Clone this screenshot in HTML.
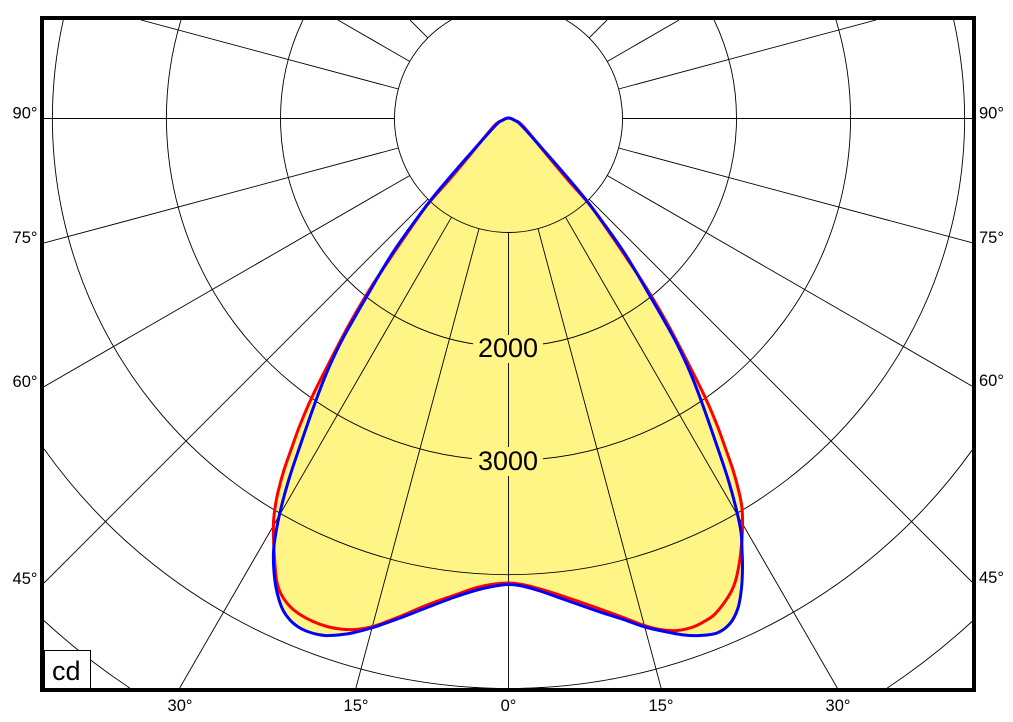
<!DOCTYPE html>
<html>
<head>
<meta charset="utf-8">
<style>
  html, body { margin:0; padding:0; background:#fff; overflow:hidden; }
  body { width:1013px; height:722px; overflow:hidden; }
  svg { display:block; }
  text { font-family: "Liberation Sans", Arial, sans-serif; fill:#000; }
</style>
</head>
<body>
<svg id="chart" width="1013" height="722" viewBox="0 0 1013 722" xmlns="http://www.w3.org/2000/svg">
  <defs>
    <clipPath id="inner">
      <rect x="44" y="20" width="928" height="668"/>
    </clipPath>
  </defs>
  <rect x="0" y="0" width="1013" height="722" fill="#fff"/>

  <g clip-path="url(#inner)">
    <!-- yellow fill (union of both curves) -->
    <path id="fillB" fill="#fff587" stroke="none" d=""/>
    <path id="fillR" fill="#fff587" stroke="none" d=""/>

    <!-- grid circles (as arcs inside frame) -->
    <g fill="none" stroke="#000" stroke-width="0.9">
      <path d="M565.9,20 A114,114 0 1,1 451.1,20"/>
      <path d="M714.1,20 A228,228 0 1,1 302.9,20"/>
      <path d="M836,20 A342,342 0 1,1 181,20"/>
      <path d="M953.7,20 A456,456 0 1,1 63.3,20"/>
      <path d="M972,450.3 A570,570 0 0,1 44,448.9"/>
      <path d="M129.7,688 A684,684 0 0,1 44,620.6"/>
      <path d="M972,621.5 A684,684 0 0,1 887.3,688"/>
    </g>
    <!-- radial lines every 15 deg -->
    <g stroke="#000" stroke-width="0.9">
      <line x1="508.5" y1="232.5" x2="508.5" y2="688"/>
      <line x1="538.0" y1="228.6" x2="661.1" y2="688"/>
      <line x1="479.0" y1="228.6" x2="355.9" y2="688"/>
      <line x1="565.5" y1="217.2" x2="837.3" y2="688"/>
      <line x1="451.5" y1="217.2" x2="179.7" y2="688"/>
      <line x1="589.1" y1="199.1" x2="972" y2="582"/>
      <line x1="427.9" y1="199.1" x2="44" y2="583"/>
      <line x1="607.2" y1="175.5" x2="972" y2="386.1"/>
      <line x1="409.8" y1="175.5" x2="44" y2="386.7"/>
      <line x1="618.6" y1="148.0" x2="972" y2="242.7"/>
      <line x1="398.4" y1="148.0" x2="44" y2="243.0"/>
      <line x1="622.5" y1="118.5" x2="972" y2="118.5"/>
      <line x1="394.5" y1="118.5" x2="44" y2="118.5"/>
      <line x1="618.6" y1="89.0" x2="876.1" y2="20"/>
      <line x1="398.4" y1="89.0" x2="140.9" y2="20"/>
      <line x1="607.2" y1="61.5" x2="679.1" y2="20"/>
      <line x1="409.8" y1="61.5" x2="337.9" y2="20"/>
      <line x1="589.1" y1="37.9" x2="607" y2="20"/>
      <line x1="427.9" y1="37.9" x2="410" y2="20"/>
    </g>

    <!-- value labels with backing -->
    <rect x="473" y="335" width="70" height="28" fill="#fff587"/>
    <rect x="472" y="447" width="71" height="29" fill="#fff587"/>
    <text x="508" y="357" font-size="27" text-anchor="middle">2000</text>
    <text x="508" y="470" font-size="27" text-anchor="middle">3000</text>

    <!-- curves -->
    <path id="lineR" fill="none" stroke="#ff0000" stroke-width="3" stroke-linejoin="round" d=""/>
    <path id="lineB" fill="none" stroke="#0000ff" stroke-width="3" stroke-linejoin="round" d=""/>
  </g>

  <!-- cd box -->
  <rect x="44.5" y="650.5" width="46" height="38" fill="#fff" stroke="#000" stroke-width="1"/>
  <text x="52" y="680" font-size="27">cd</text>

  <!-- frame -->
  <rect x="42" y="18" width="932" height="672" fill="none" stroke="#000" stroke-width="4"/>

  <!-- left labels -->
  <g font-size="16.5" text-anchor="end">
    <text x="37.5" y="118.5">90°</text>
    <text x="37.5" y="243">75°</text>
    <text x="37.5" y="387">60°</text>
    <text x="37.5" y="584">45°</text>
  </g>
  <!-- right labels -->
  <g font-size="16.5" text-anchor="start">
    <text x="979" y="118.5">90°</text>
    <text x="979" y="243">75°</text>
    <text x="979" y="386">60°</text>
    <text x="979" y="583">45°</text>
  </g>
  <!-- bottom labels -->
  <g font-size="16.5" text-anchor="middle">
    <text x="180" y="711">30°</text>
    <text x="356" y="711">15°</text>
    <text x="508.5" y="711">0°</text>
    <text x="661" y="711">15°</text>
    <text x="838" y="711">30°</text>
  </g>
</svg>

<script>
(function(){
  var B = [
    [508.5,118],[502,120.5],[495,126],[470,154],[450,177],[430,201],[410,228],[390,257],
    [367,296],[352,322],[340,344],[327,372],[315,403],[300,446],[289,479],[281,508],
    [276,532],[273.5,552],[274,572],[276.5,590],[282,608],[290,620],[300,628],[312,633],
    [325,635.5],[338,635],[352,633],[373,627.5],[400,618],[427,607.5],[455,597],[477,590],
    [495,586],[508.5,584.5],[522,586],[540,591],[567,600.5],[600,612],[622,619],[645,627],
    [667,632],[684,635],[700,635.5],[717,633],[730,623.5],[738,608],[741.5,588],[742.5,567],
    [742,550],[741,532],[736,508],[728,479],[717,446],[702,403],[690,372],[677,344],
    [665,322],[650,296],[627,257],[607,228],[587,201],[567,177],[547,154],[522,126],[515,120.5]
  ];
  var R = [
    [508.5,118],[502,120.5],[494,126],[470,155],[449,180],[428,204],[408,232],[389,260],
    [370,289],[350,323],[330,361],[312,397],[300,425],[292,447],[284,470],[278,492],
    [275,508],[273.5,522],[273.5,538],[274.5,558],[276.5,580],[281,594],[290,606.5],[300,614.5],
    [313,621.5],[327,626.5],[340,629],[355,629.5],[373,626.5],[400,616.5],[427,605],[455,595],
    [477,587.5],[495,584],[508.5,583],[522,584.5],[540,589],[567,597.5],[600,609],[622,617],
    [643,625],[660,629.5],[677,630.5],[693,627],[705,621],[714,615],[724,603],[731,592],
    [735.5,581],[739.5,562],[741.5,545],[742.5,527],[742,508],[739,492],[733,470],[725,447],
    [717,425],[705,397],[687,361],[667,323],[647,289],[628,260],[609,232],[589,204],
    [568,180],[547,155],[523,126],[515,120.5]
  ];
  function poly(p){
    var d = "M" + p[0][0] + "," + p[0][1];
    for (var i=1;i<p.length;i++) d += "L" + p[i][0] + "," + p[i][1];
    return d + "Z";
  }
  function cr(p){
    var n = p.length, d = "M" + p[0][0] + "," + p[0][1];
    for (var i=0;i<n;i++){
      var p0=p[(i-1+n)%n], p1=p[i], p2=p[(i+1)%n], p3=p[(i+2)%n];
      var c1x=p1[0]+(p2[0]-p0[0])/6, c1y=p1[1]+(p2[1]-p0[1])/6;
      var c2x=p2[0]-(p3[0]-p1[0])/6, c2y=p2[1]-(p3[1]-p1[1])/6;
      d += "C"+c1x.toFixed(2)+","+c1y.toFixed(2)+" "+c2x.toFixed(2)+","+c2y.toFixed(2)+" "+p2[0]+","+p2[1];
    }
    return d + "Z";
  }
  var dB, dR;
  try { dB = cr(B); dR = cr(R); } catch(e) { dB = poly(B); dR = poly(R); }
  document.getElementById("fillB").setAttribute("d", dB);
  document.getElementById("fillR").setAttribute("d", dR);
  document.getElementById("lineB").setAttribute("d", dB);
  document.getElementById("lineR").setAttribute("d", dR);
})();
</script>
</body>
</html>
